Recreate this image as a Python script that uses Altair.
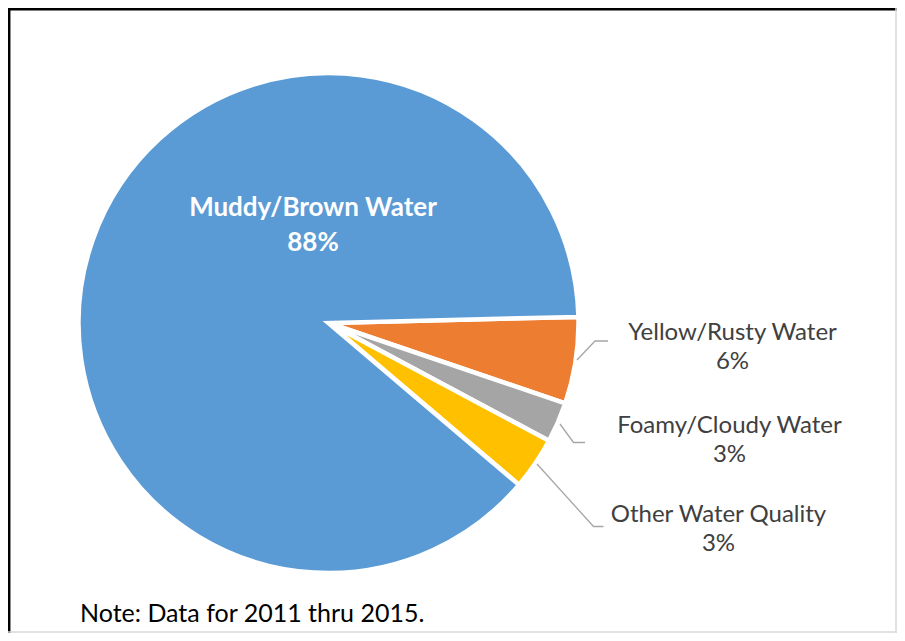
import math
import altair as alt
import pandas as pd

# ---- data ----
categories = ["Yellow/Rusty Water", "Foamy/Cloudy Water", "Other Water Quality", "Muddy/Brown Water"]
shares = [5.6, 2.6, 3.4, 88.4]
pct_labels = ["6%", "3%", "3%", "88%"]
colors = ["#ED7D31", "#A5A5A5", "#FFC000", "#5B9BD5"]
note_text = "Note: Data for 2011 thru 2015."

# ---- layout (page pixel coordinates) ----
OFF = 8
W, H = 889, 625
CX, CY = 328.5, 323.0
R = 250
START = math.radians(88.6)

# label anchor: centre x, first-line baseline y
label_pos = {
    "Muddy/Brown Water": (313, 216),
    "Yellow/Rusty Water": (732.5, 339.5),
    "Foamy/Cloudy Water": (729.5, 432.5),
    "Other Water Quality": (718.5, 521.5),
}
leader_pts = {
    "Yellow/Rusty Water": [(577, 360), (595, 341), (608, 341)],
    "Foamy/Cloudy Water": [(560, 424), (573.5, 442.5), (585, 442.5)],
    "Other Water Quality": [(537, 464), (593.5, 526.5), (603.5, 526.5)],
}
note_pos = (80, 621.5)

pie_df = pd.DataFrame({"category": categories, "share": shares, "ord": list(range(len(categories)))})

lab_rows = []
for c, p in zip(categories, pct_labels):
    x, y = label_pos[c]
    lab_rows.append({"text": f"{c}\n{p}", "x": x - OFF, "y": y - OFF, "inner": c == "Muddy/Brown Water"})
lab_df = pd.DataFrame(lab_rows)

line_rows = []
for c, pts in leader_pts.items():
    for i, (x, y) in enumerate(pts):
        line_rows.append({"label": c, "i": i, "x": x - OFF, "y": y - OFF})
line_df = pd.DataFrame(line_rows)

note_df = pd.DataFrame({"text": [note_text], "x": [note_pos[0] - OFF], "y": [note_pos[1] - OFF]})

xs = alt.Scale(domain=[0, W], nice=False, zero=False)
ys = alt.Scale(domain=[0, H], nice=False, zero=False, reverse=True)
FONT = "Lato"

arc = alt.Chart(pie_df).mark_arc(outerRadius=R, stroke="white", strokeWidth=4.5).encode(
    theta=alt.Theta("share:Q", stack=True, scale=alt.Scale(range=[START, START + 2 * math.pi])),
    color=alt.Color("category:N", scale=alt.Scale(domain=categories, range=colors), legend=None),
    order=alt.Order("ord:Q"),
    x=alt.value(CX - OFF),
    y=alt.value(CY - OFF),
)

lines = alt.Chart(line_df).mark_line(color="#A6A6A6", strokeWidth=1.3).encode(
    x=alt.X("x:Q", scale=xs, axis=None),
    y=alt.Y("y:Q", scale=ys, axis=None),
    detail="label:N",
    order="i:Q",
)

inner_text = alt.Chart(lab_df).transform_filter("datum.inner").mark_text(
    align="center", baseline="alphabetic", lineBreak="\n", lineHeight=35,
    font=FONT, fontSize=26, fontWeight="bold", color="white",
).encode(x=alt.X("x:Q", scale=xs, axis=None), y=alt.Y("y:Q", scale=ys, axis=None), text="text:N")

outer_text = alt.Chart(lab_df).transform_filter("!datum.inner").mark_text(
    align="center", baseline="alphabetic", lineBreak="\n", lineHeight=29,
    font=FONT, fontSize=24, color="#404040",
).encode(x=alt.X("x:Q", scale=xs, axis=None), y=alt.Y("y:Q", scale=ys, axis=None), text="text:N")

note = alt.Chart(note_df).mark_text(
    align="left", baseline="alphabetic", font=FONT, fontSize=25, color="black",
).encode(x=alt.X("x:Q", scale=xs, axis=None), y=alt.Y("y:Q", scale=ys, axis=None), text="text:N")

frame_top = alt.Chart(note_df).mark_rule(color="black", strokeWidth=2.5).encode(
    x=alt.value(0), x2=alt.value(W), y=alt.value(1.2))
frame_left = alt.Chart(note_df).mark_rule(color="black", strokeWidth=2.5).encode(
    x=alt.value(1.2), y=alt.value(0), y2=alt.value(H))
frame_right = alt.Chart(note_df).mark_rule(color="#D9D9D9", strokeWidth=1.5).encode(
    x=alt.value(W - 1), y=alt.value(0), y2=alt.value(H))
frame_bottom = alt.Chart(note_df).mark_rule(color="#D9D9D9", strokeWidth=1.5).encode(
    x=alt.value(0), x2=alt.value(W), y=alt.value(H - 1))

chart = alt.layer(
    arc, lines, inner_text, outer_text, note, frame_top, frame_left, frame_right, frame_bottom
).properties(width=W, height=H, padding=0, autosize="none", background="white").configure_view(stroke=None)

chart.save("out.html", embed_options={"renderer": "svg", "actions": False})
